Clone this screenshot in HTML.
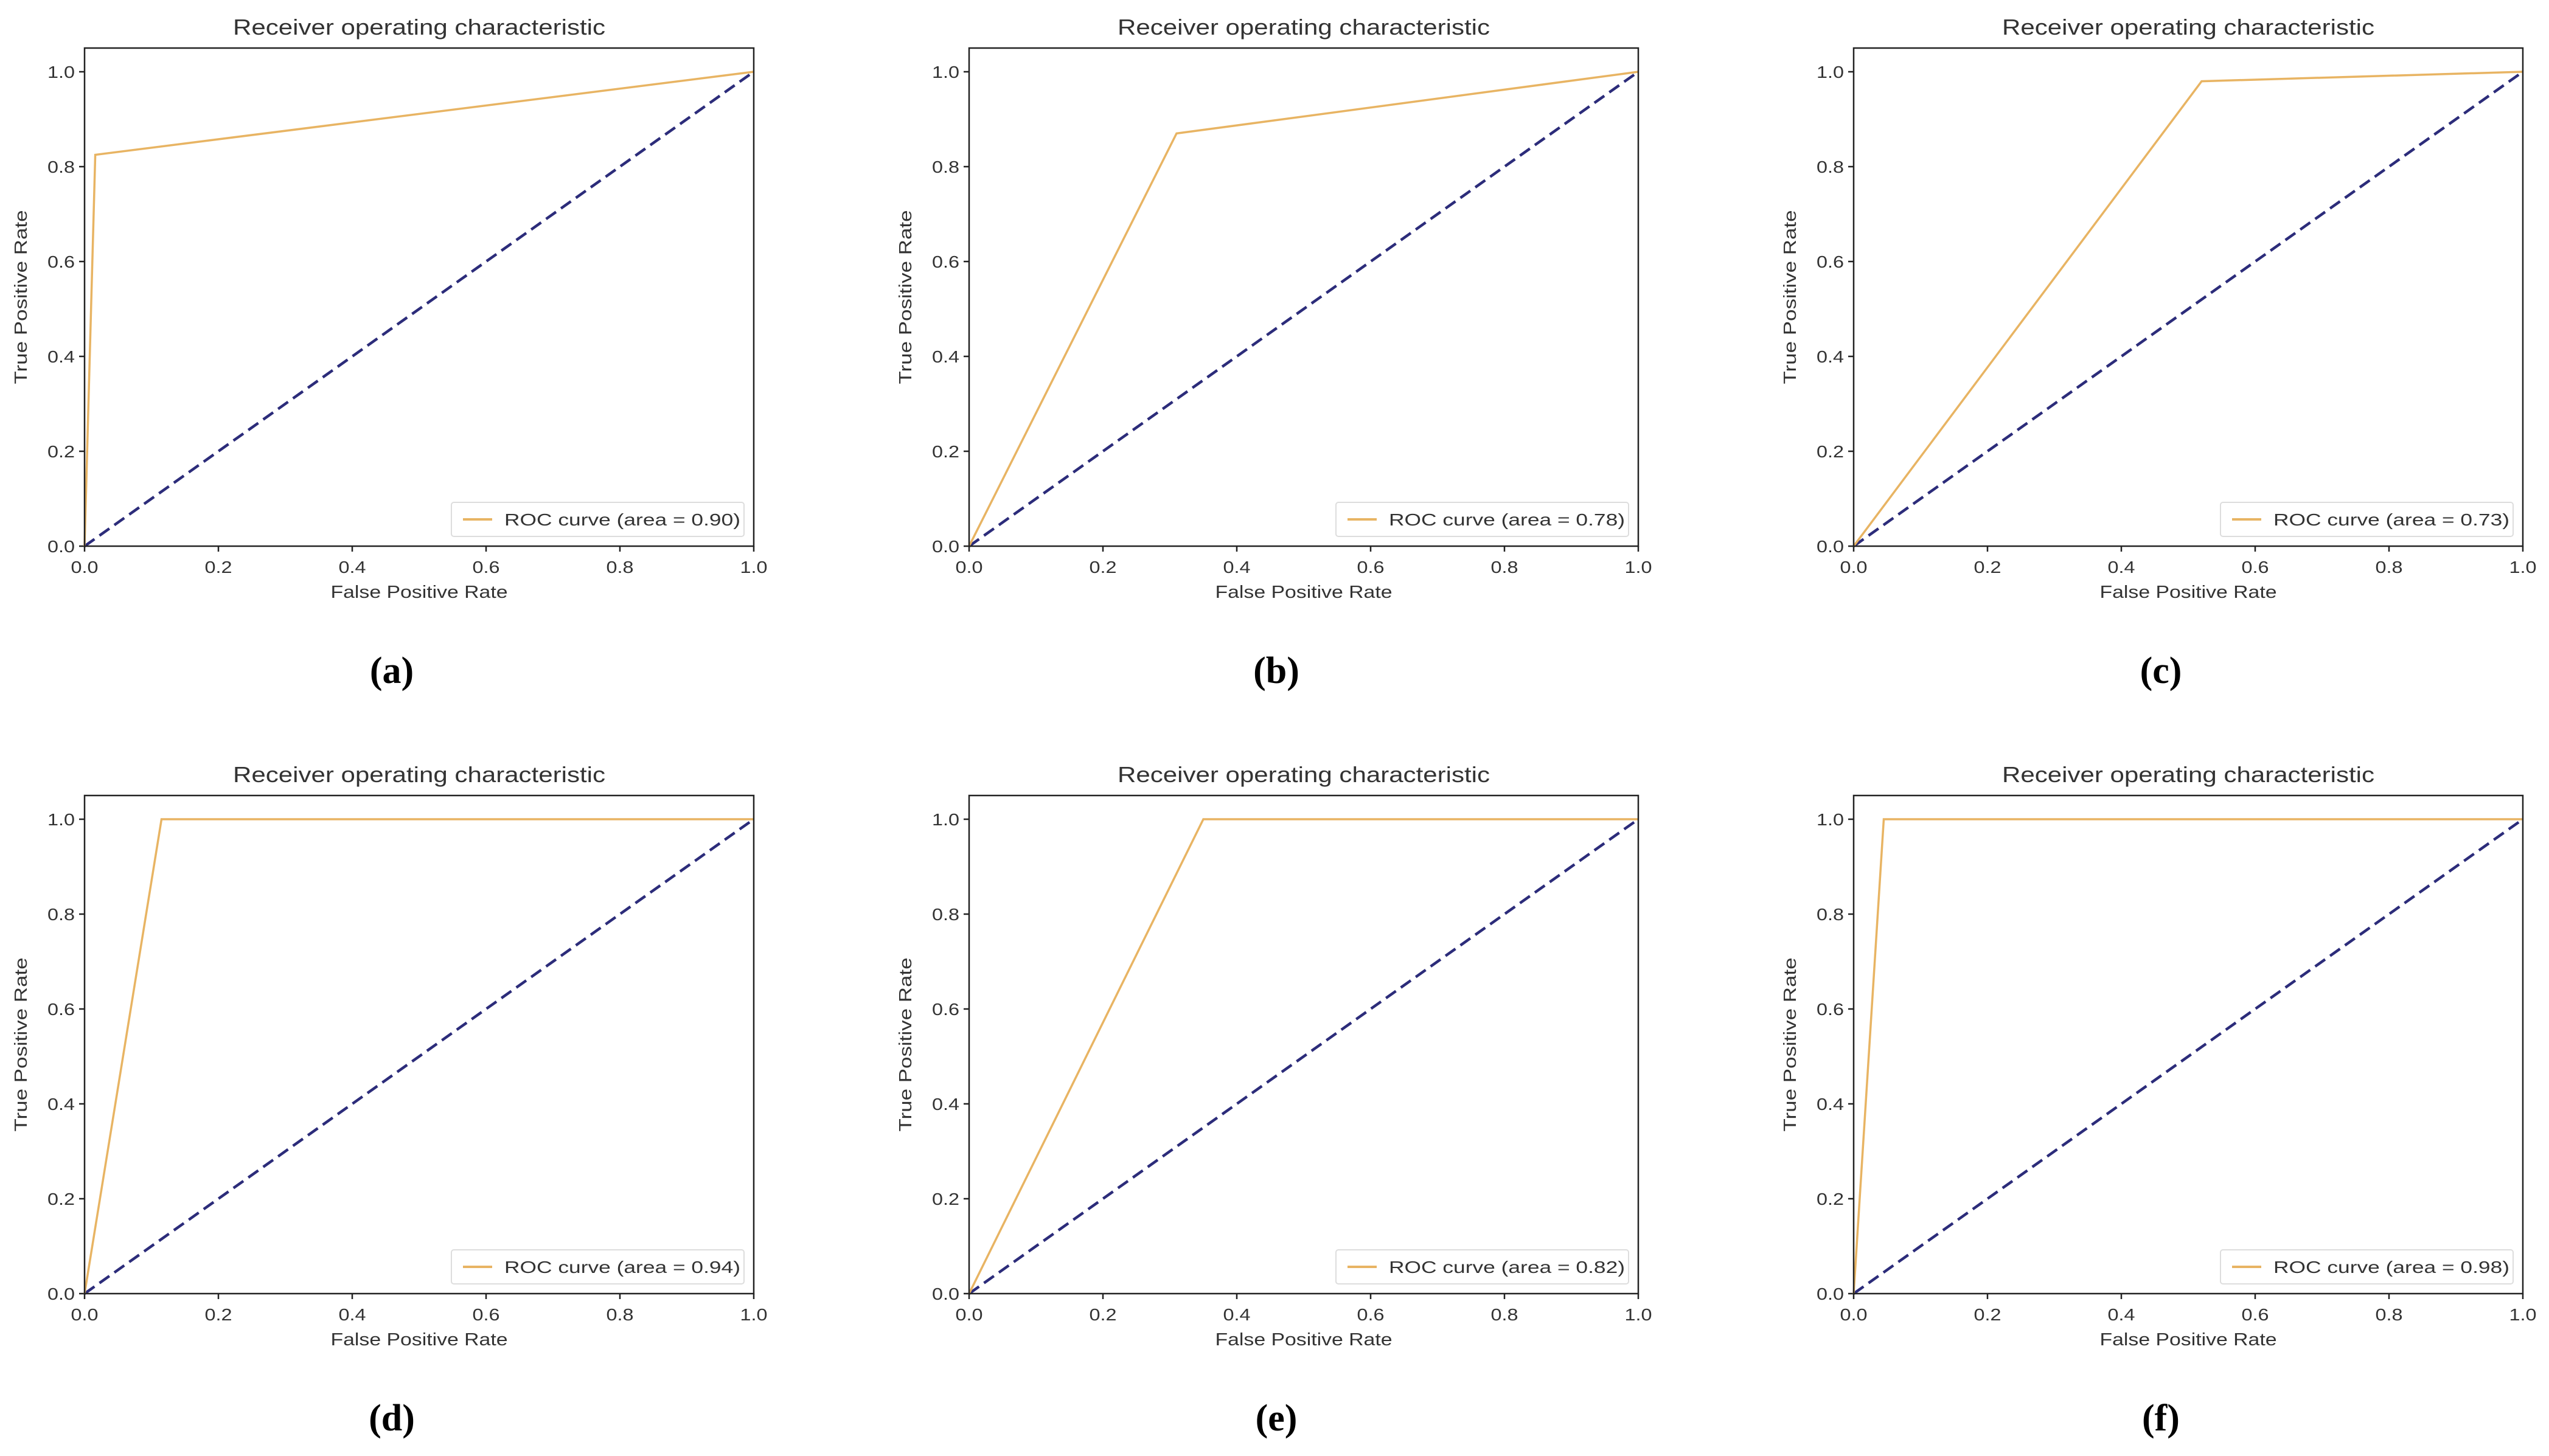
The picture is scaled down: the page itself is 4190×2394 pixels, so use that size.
<!DOCTYPE html>
<html><head><meta charset="utf-8"><style>
html,body{margin:0;padding:0;background:#fff}
svg{display:block}
text{font-family:"Liberation Sans","DejaVu Sans",sans-serif;fill:#333}
</style></head><body>
<svg id="fig" width="4190" height="2394" viewBox="0 0 4190 2394" xmlns="http://www.w3.org/2000/svg"></svg>
<script>
const panelLabels = ["(a)","(b)","(c)","(d)","(e)","(f)"];
const aucValues = ["0.90","0.78","0.73","0.94","0.82","0.98"];
const fprA = [0, 0.016, 1]; const tprA = [0, 0.825, 1];
const fprB = [0, 0.31, 1];  const tprB = [0, 0.87, 1];
const fprC = [0, 0.52, 1];  const tprC = [0, 0.98, 1];
const fprD = [0, 0.115, 1]; const tprD = [0, 1, 1];
const fprE = [0, 0.35, 1];  const tprE = [0, 1, 1];
const fprF = [0, 0.045, 1]; const tprF = [0, 1, 1];
const fprs = [fprA,fprB,fprC,fprD,fprE,fprF];
const tprs = [tprA,tprB,tprC,tprD,tprE,tprF];
const chanceX = [0, 1];
const chanceY = [0, 1];
const tickVals = [0, 0.2, 0.4, 0.6, 0.8, 1.0];
const tickLabels = ["0.0","0.2","0.4","0.6","0.8","1.0"];

const NS = "http://www.w3.org/2000/svg";
const svg = document.getElementById('fig');
function mk(tag, attrs, parent, txt){
  const e = document.createElementNS(NS, tag);
  for (const k in attrs) e.setAttribute(k, attrs[k]);
  if (txt !== undefined) e.textContent = txt;
  (parent || svg).appendChild(e);
  return e;
}
const lefts = [139, 1593, 3047];
const tops = [79, 1308];
const W = 1100, H = 819;
for (let i = 0; i < 6; i++) {
  const L = lefts[i % 3], T = tops[Math.floor(i / 3)];
  const B = T + H, R = L + W;
  const y0 = B, y1 = B - H / 1.05;
  const xs = v => L + v * W;
  const ys = v => y0 - v * (y0 - y1);
  const g = mk('g', {});
  
  
  const title = mk('text', {x: L + W / 2, y: T - 22, 'font-size': 36, 'text-anchor': 'middle', textLength: 612, lengthAdjust: 'spacingAndGlyphs'}, g, 'Receiver operating characteristic');
  
  
  tickVals.forEach((v, k) => {
    mk('line', {x1: xs(v), y1: B, x2: xs(v), y2: B + 9, stroke: '#222', 'stroke-width': 2.5}, g);
    const xt = mk('text', {x: xs(v), y: B + 44, 'font-size': 28, 'text-anchor': 'middle', textLength: 45, lengthAdjust: 'spacingAndGlyphs'}, g, tickLabels[k]);
    
    
    mk('line', {x1: L, y1: ys(v), x2: L - 9, y2: ys(v), stroke: '#222', 'stroke-width': 2.5}, g);
    const yt = mk('text', {x: L - 16, y: ys(v) + 10, 'font-size': 28, 'text-anchor': 'end', textLength: 45, lengthAdjust: 'spacingAndGlyphs'}, g, tickLabels[k]);
    
    
  });
  const xl = mk('text', {x: L + W / 2, y: B + 85, 'font-size': 29, 'text-anchor': 'middle', textLength: 291, lengthAdjust: 'spacingAndGlyphs'}, g, 'False Positive Rate');
  
  
  const ycx = L - 95, ycy = (T + B) / 2;
  const yl = mk('text', {x: ycx, y: ycy, 'font-size': 29, 'text-anchor': 'middle', textLength: 286, lengthAdjust: 'spacingAndGlyphs', transform: `rotate(-90 ${ycx} ${ycy})`}, g, 'True Positive Rate');
  
  
  const ch = mk('polyline', {points: chanceX.map((v, k) => xs(v) + ',' + ys(chanceY[k])).join(' '), fill: 'none', stroke: '#2c2c7a', 'stroke-width': 4.5, 'stroke-dasharray': '20 10'}, g);
  
  
  const rc = mk('polyline', {points: fprs[i].map((v, k) => xs(v) + ',' + ys(tprs[i][k])).join(' '), fill: 'none', stroke: '#e8b463', 'stroke-width': 3.5}, g);
  
  
  mk('rect', {x: L, y: T, width: W, height: H, fill: 'none', stroke: '#222', 'stroke-width': 2.5}, g);
  const lg = mk('g', {}, g);
  
  
  mk('rect', {x: R - 497, y: B - 72, width: 481, height: 56, rx: 4, fill: '#fff', stroke: '#ddd', 'stroke-width': 2}, lg);
  mk('line', {x1: R - 478, y1: B - 44, x2: R - 430, y2: B - 44, stroke: '#e8b463', 'stroke-width': 4}, lg);
  const lt = mk('text', {x: R - 410, y: B - 34, 'font-size': 28, textLength: 388, lengthAdjust: 'spacingAndGlyphs'}, lg, 'ROC curve (area = ' + aucValues[i] + ')');
  
  
  const pl = mk('text', {x: L + W / 2 - 45, y: B + 225, 'font-size': 62, 'text-anchor': 'middle', style: 'font-family:"Liberation Serif",serif;font-weight:bold;fill:#000'}, g, panelLabels[i]);
  
  
}
</script>
</body></html>
